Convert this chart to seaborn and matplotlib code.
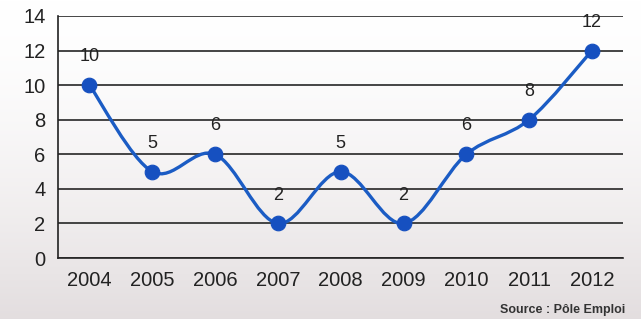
import numpy as np
import matplotlib
matplotlib.use("Agg")
import matplotlib.pyplot as plt
from matplotlib.path import Path
from matplotlib.patches import PathPatch
import seaborn as sns
import pandas as pd

# values
years = ['2004', '2005', '2006', '2007', '2008', '2009', '2010', '2011', '2012']
values = [10, 5, 6, 2, 5, 2, 6, 8, 12]
y_ticks = [0, 2, 4, 6, 8, 10, 12, 14]

df = pd.DataFrame({'year': years, 'value': values})
df['pos'] = np.arange(len(years))

sns.set_style("white")
plt.rcParams['font.family'] = ['Liberation Sans', 'DejaVu Sans']

fig = plt.figure(figsize=(6.41, 3.19), dpi=100)

# soft grey gradient behind the whole picture
bg = fig.add_axes([0, 0, 1, 1], zorder=-10)
grad = np.linspace(0, 1, 256) ** 1.6
top = np.array([1.0, 1.0, 1.0])
bottom = np.array([0.89, 0.87, 0.875])
img = top[None, :] * (1 - grad[:, None]) + bottom[None, :] * grad[:, None]
bg.imshow(img[:, None, :], aspect='auto', extent=[0, 1, 0, 1])
bg.axis('off')

ax = fig.add_axes([0.0905, 0.191, 0.882, 0.759])
ax.set_facecolor('none')

line_color = '#1b5cc4'

# smooth (bezier) line through the points, Excel style
pts = df[['pos', 'value']].to_numpy(dtype=float)
verts = [pts[0]]
codes = [Path.MOVETO]
n = len(pts)
for i in range(n - 1):
    p0 = pts[max(i - 1, 0)]
    p1 = pts[i]
    p2 = pts[i + 1]
    p3 = pts[min(i + 2, n - 1)]
    c1 = p1 + (p2 - p0) / 6
    c2 = p2 - (p3 - p1) / 6
    verts += [c1, c2, p2]
    codes += [Path.CURVE4] * 3
ax.add_patch(PathPatch(Path(verts, codes), facecolor='none', edgecolor=line_color,
                       lw=2.4, zorder=3))

sns.scatterplot(data=df, x='pos', y='value', ax=ax, s=110, color='#1650c0',
                edgecolor='#1650c0', zorder=4, legend=False)

for _, r in df.iterrows():
    ax.annotate(str(r['value']), (r['pos'], r['value']), xytext=(0, 20.5),
                textcoords='offset points', ha='center', va='center',
                fontsize=13, color='#222222')

ax.set_xlim(-0.5, len(years) - 0.5)
ax.set_ylim(0, 14)
ax.set_xticks(df['pos'])
ax.set_xticklabels(years)
ax.set_xticks(np.arange(-0.5, len(years), 1.0), minor=True)
ax.set_yticks(y_ticks)
ax.set_xlabel('')
ax.set_ylabel('')

ax.yaxis.grid(True, color='#262626', lw=1.2)
ax.set_axisbelow(True)
for s in ['top', 'right']:
    ax.spines[s].set_visible(False)
for s in ['left', 'bottom']:
    ax.spines[s].set_color('#222222')
    ax.spines[s].set_linewidth(1.2)

ax.tick_params(axis='x', which='major', length=0, pad=9, labelsize=14.5, colors='#222222')
ax.tick_params(axis='x', which='minor', length=6, width=1.2, direction='out', color='#222222')
ax.tick_params(axis='y', which='major', length=6, width=1.2, direction='out', pad=3,
               labelsize=14.5, colors='#222222')

fig.text(0.975, 0.028, 'Source : Pôle Emploi', ha='right', va='center',
         fontsize=9, fontweight='bold', color='#333333')

fig.savefig('out.png', dpi=100)
